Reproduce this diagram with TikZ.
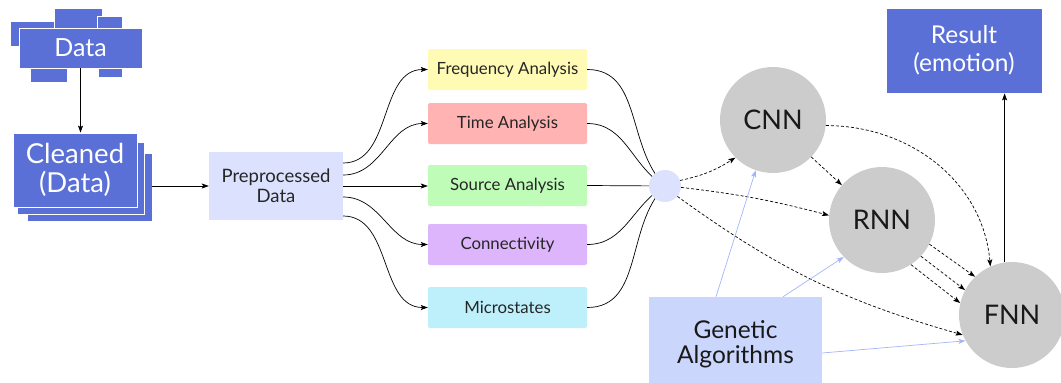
\documentclass[tikz,border=0pt]{standalone}
\usepackage{fontspec}
\setmainfont{Lato}
\usetikzlibrary{arrows.meta,calc}
\definecolor{dblue}{RGB}{90,112,214}
\definecolor{prebg}{RGB}{220,226,254}
\definecolor{gabg}{RGB}{203,214,252}
\definecolor{freqc}{RGB}{255,251,181}
\definecolor{timec}{RGB}{255,179,179}
\definecolor{srcc}{RGB}{191,252,184}
\definecolor{conc}{RGB}{221,181,252}
\definecolor{micc}{RGB}{190,240,252}
\definecolor{nngray}{RGB}{204,204,204}
\definecolor{galine}{RGB}{163,181,248}
\tikzset{
  >={Stealth[length=7pt,width=5pt,inset=1.5pt]},
  piece/.style={fill=dblue,draw=white,line width=0.8pt},
  bluebox/.style={fill=dblue,draw=white,line width=0.8pt,text=white,inner sep=0pt,align=center},
  abox/.style={fill=#1,draw=none,rounded corners=2pt,minimum width=159pt,minimum height=41pt,inner sep=0pt,font=\fontsize{16.8}{19}\selectfont,text=black!85},
  nn/.style={circle,fill=nngray,minimum size=106pt,inner sep=0pt,font=\fontsize{27}{30}\selectfont,text=black!90},
  conn/.style={->,line width=0.7pt,black},
  dconn/.style={->,line width=0.7pt,black,dash pattern=on 3pt off 2pt},
  gconn/.style={-{Stealth[length=7pt,width=5pt,inset=1.5pt]},line width=0.7pt,galine},
}
\begin{document}
\begin{tikzpicture}[x=1pt,y=1pt]
\useasboundingbox (0,0) rectangle (1061,-383);
% Data cluster
\fill[piece] (10,-21) rectangle (60,-46);
\fill[piece] (54,-8) rectangle (102,-40);
\fill[piece] (97,-16) rectangle (122,-40);
\fill[piece] (30,-55) rectangle (67,-82);
\fill[piece] (98,-55) rectangle (122,-77);
\node[bluebox,minimum width=123pt,minimum height=40pt,font=\fontsize{25}{28}\selectfont] (data) at (80.5,-48) {Data};
% Cleaned stack
\node[bluebox,minimum width=125pt,minimum height=68pt] (cleanedback) at (89.5,-187) {};
\node[bluebox,minimum width=127pt,minimum height=72pt] (cleanedmid) at (80.5,-178) {};
\node[bluebox,minimum width=124pt,minimum height=74pt,font=\fontsize{27.5}{29}\selectfont] (cleaned) at (75,-170) {Cleaned\\(Data)};
\draw[conn] (data.south) -- (data.south |- cleaned.north);
% Preprocessed
\node[fill=prebg,minimum width=134pt,minimum height=68pt,inner sep=0pt,align=center,font=\fontsize{18.5}{20}\selectfont,text=black!85] (pre) at (276,-186) {Preprocessed\\Data};
\draw[conn,line width=0.6pt] (cleanedback.east |- pre.west) -- (pre.west);
% analysis boxes
\node[abox=freqc] (freq) at (507.5,-69.5) {Frequency Analysis};
\node[abox=timec] (time) at (507.5,-123.5) {Time Analysis};
\node[abox=srcc] (src) at (507.5,-185.5) {Source Analysis};
\node[abox=conc] (con) at (507.5,-244.5) {Connectivity};
\node[abox=micc] (mic) at (507.5,-307.5) {Microstates};
\draw[conn] ([yshift=23pt]pre.east) to[out=0,in=180] (freq.west);
\draw[conn] ([yshift=11pt]pre.east) to[out=0,in=180] (time.west);
\draw[conn] (pre.east) -- (pre.east -| src.west);
\draw[conn] ([yshift=-11pt]pre.east) to[out=0,in=180] (con.west);
\draw[conn] ([yshift=-30pt]pre.east) to[out=0,in=180] (mic.west);
% junction
\coordinate (jc) at (665,-186);
\draw[line width=0.7pt] (freq.east) to[out=0,in=135] (jc);
\draw[line width=0.7pt] (time.east) to[out=0,in=150] (jc);
\draw[line width=0.7pt] (src.east) -- (jc);
\draw[line width=0.7pt] (con.east) to[out=0,in=210] (jc);
\draw[line width=0.7pt] (mic.east) to[out=0,in=225] (jc);
\node[circle,fill=prebg,minimum size=32pt,inner sep=0pt] (j) at (jc) {};
% NN nodes
\node[nn] (cnn) at (773,-120) {CNN};
\node[nn] (rnn) at (882,-220) {RNN};
\node[nn] (fnn) at (1012,-315) {FNN};
\node[bluebox,minimum width=156pt,minimum height=85pt,font=\fontsize{24.5}{28}\selectfont] (res) at (964,-50.5) {Result\\(emotion)};
\node[fill=gabg,minimum width=173pt,minimum height=94pt,inner sep=0pt,align=center,font=\fontsize{24.5}{25}\selectfont,text=black!90] (ga) at (735.5,-344) {Genetic\\Algorithms};
% dashed
\draw[dconn] (j.20) to[bend right=10] (cnn.225);
\draw[dconn] (j.-5) to[bend left=4] (rnn.175);
\draw[dconn] (j.-40) to[bend right=10] (fnn.202);
\draw[dconn] (cnn.-44) -- (rnn.139);
\draw[dconn] (cnn.-6) to[out=0,in=95] (fnn.114);
\draw[dconn] (rnn.-27) -- (fnn.134);
\draw[dconn] (rnn.-43) -- (fnn.152);
\draw[dconn] (rnn.-57) -- (fnn.167);
% result
\draw[conn,line width=0.6pt] (fnn.98) -- (fnn.98 |- res.south);
% GA arrows
\draw[gconn] ([xshift=-19.5pt]ga.north) -- (cnn.251);
\draw[gconn] ([xshift=47.5pt]ga.north) -- (rnn.224);
\draw[gconn] ([yshift=-9pt]ga.east) -- (fnn.209);
\end{tikzpicture}
\end{document}
